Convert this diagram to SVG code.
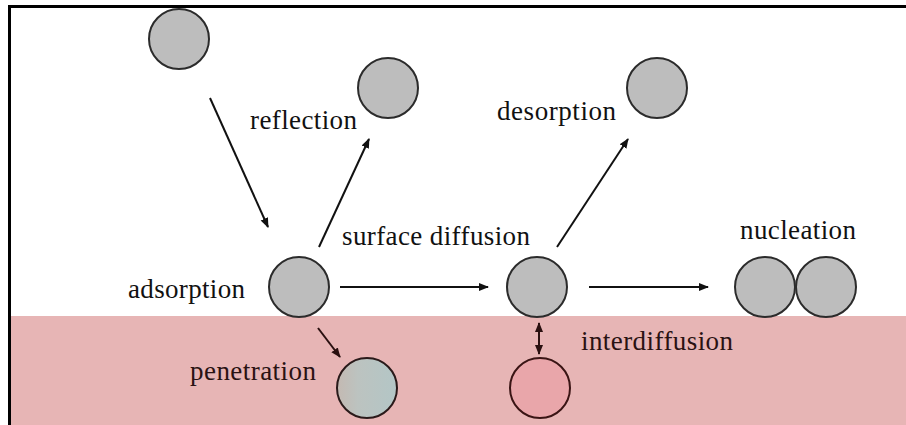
<svg xmlns="http://www.w3.org/2000/svg" width="906" height="425" viewBox="0 0 906 425">
  <defs>
    <marker id="head" viewBox="0 0 10 10" refX="9" refY="5" markerWidth="5" markerHeight="5" orient="auto-start-reverse" markerUnits="strokeWidth">
      <path d="M0,1 L10,5 L0,9 z" fill="#111"/>
    </marker>
    <marker id="head-sub" viewBox="0 0 10 10" refX="9" refY="5" markerWidth="5" markerHeight="5" orient="auto-start-reverse" markerUnits="strokeWidth">
      <path d="M0,1 L10,5 L0,9 z" fill="#2a1010"/>
    </marker>
    <linearGradient id="mixed" x1="0" y1="0" x2="1" y2="0">
      <stop offset="0" stop-color="#c4b9b2"/>
      <stop offset="0.35" stop-color="#bcc3c0"/>
      <stop offset="1" stop-color="#b3c6c6"/>
    </linearGradient>
  </defs>

  <rect width="906" height="425" fill="#ffffff"/>

  <!-- substrate -->
  <rect id="substrate" x="10" y="316" width="896" height="109" fill="#e7b5b5"/>

  <!-- frame -->
  <path d="M9.5,425 V6.5 H906" fill="none" stroke="#000" stroke-width="3"/>

  <!-- connectors -->
  <g id="connectors" stroke-width="2" fill="none">
    <g stroke="#111" marker-end="url(#head)">
      <line x1="210" y1="98" x2="268" y2="227"/>
      <line x1="319" y1="247" x2="369" y2="139"/>
      <line x1="340" y1="287" x2="488" y2="287"/>
      <line x1="557" y1="247" x2="628" y2="139"/>
      <line x1="589" y1="287" x2="708" y2="287"/>
    </g>
    <g stroke="#2a1010" marker-end="url(#head-sub)">
      <line x1="318" y1="328" x2="340" y2="357"/>
      <line x1="539" y1="323" x2="539" y2="354" marker-start="url(#head-sub)"/>
    </g>
  </g>

  <!-- atoms and labels -->
  <g id="nodes" font-family="Liberation Serif" font-size="27">
    <g fill="#bdbdbd" stroke="#2b2b2b" stroke-width="2">
      <g id="incoming">
        <circle cx="179" cy="39" r="30"/>
      </g>
      <g id="reflection">
        <circle cx="388" cy="88" r="30"/>
        <text x="250" y="129" fill="#111" stroke="none" textLength="107">reflection</text>
      </g>
      <g id="desorption">
        <circle cx="657" cy="88" r="30"/>
        <text x="497" y="120" fill="#111" stroke="none" textLength="119">desorption</text>
      </g>
      <g id="adsorption">
        <circle cx="299" cy="287" r="30"/>
        <text x="128" y="298" fill="#111" stroke="none" textLength="117">adsorption</text>
      </g>
      <g id="surface-diffusion">
        <circle cx="537" cy="287" r="30"/>
        <text x="342" y="245" fill="#111" stroke="none" textLength="188">surface diffusion</text>
      </g>
      <g id="nucleation">
        <circle cx="765" cy="287" r="30"/>
        <circle cx="826" cy="287" r="30"/>
        <text x="740" y="239" fill="#111" stroke="none" textLength="116">nucleation</text>
      </g>
    </g>
    <g id="penetration">
      <circle cx="367" cy="388" r="30" fill="url(#mixed)" stroke="#2a1a1a" stroke-width="2"/>
      <text x="190" y="380" fill="#2a1212" textLength="126">penetration</text>
    </g>
    <g id="interdiffusion">
      <circle cx="540" cy="388" r="30" fill="#e9a6aa" stroke="#3a1414" stroke-width="2"/>
      <text x="581" y="350" fill="#2a1212" textLength="152">interdiffusion</text>
    </g>
  </g>
</svg>
